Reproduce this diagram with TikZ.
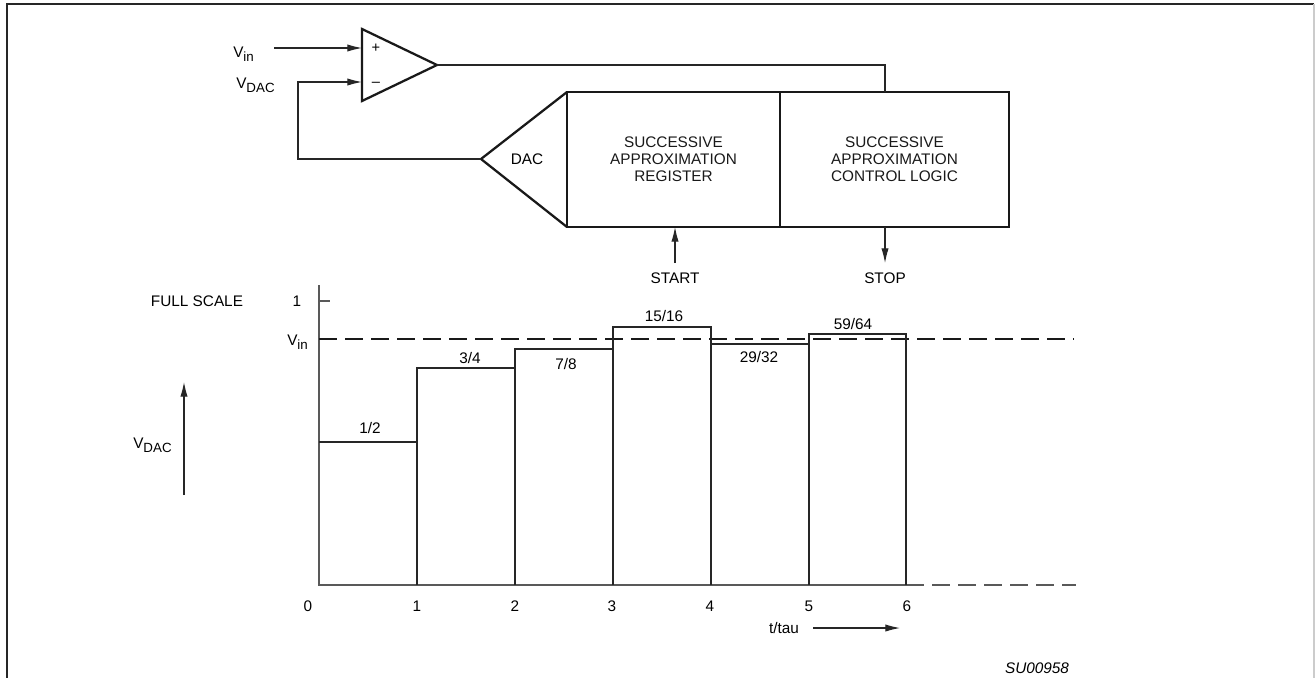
\documentclass[tikz,border=0pt]{standalone}
\usepackage{fontspec}
\setmainfont{Liberation Sans}
\usepackage{tikz}
\usetikzlibrary{arrows.meta,positioning}
\tikzstyle{part}=[draw,line width=1.7pt,black!90,outer sep=0pt,inner sep=0pt,align=center]
\tikzstyle{wire}=[line width=0.8pt,black!85]
\tikzstyle{sig}=[wire,-{Latex[length=11pt,width=5.5pt]}]
\tikzstyle{axisline}=[line width=1.1pt,black!65]
\tikzstyle{bar}=[line width=1.9pt,black!85]
\tikzstyle{guide}=[line width=0.9pt,dash pattern=on 13.5pt off 6pt]
\newcommand{\lowsub}[1]{\raisebox{-3pt}{\fontsize{10}{10}\selectfont #1}}

\begin{document}
\begin{tikzpicture}[x=0.75pt,y=-0.75pt,every node/.style={inner sep=0pt,font=\fontsize{11.5}{12.6}\selectfont}]
            \useasboundingbox (0,0) rectangle (1315,678);
            \draw[line width=1.6pt,black!85] (7,678) -- (7,4) -- (1314,4);
            \draw[line width=0.8pt,black!20] (1314,4) -- (1314,678);

            \draw[part] (362,29) -- (437,65) -- (362,101) -- cycle;
            \coordinate (plus) at (362,48);
            \coordinate (minus) at (362,82);
            \coordinate (cmpout) at (437,65);
            \node[font=\fontsize{11}{11}\selectfont] (plussign) at (376,48) {+};
            \node[font=\fontsize{11}{11}\selectfont] (minussign) at (376,84) {--};

            \node[anchor=base west] (vin) at (233,57) {V\lowsub{in}};
            \node[anchor=base west] (vdac) at (236,88) {V\lowsub{DAC}};
            \coordinate (vinend) at (274,48);
            \draw[sig] (vinend) -- (plus);

            \node[part,minimum width=159.75pt,minimum height=101.25pt] (sar) at (673.5,159.5)
                {SUCCESSIVE\\APPROXIMATION\\REGISTER};
            \node[part,minimum width=171.75pt,minimum height=101.25pt,right=0pt of sar] (logic)
                {SUCCESSIVE\\APPROXIMATION\\CONTROL LOGIC};
            \coordinate (dactip) at (481,159);
            \draw[part] (sar.north west) -- (dactip) -- (sar.south west);
            \node (daclbl) at (527,159) {DAC};

            \coordinate (fbcorner) at (298,159);
            \draw[sig] (dactip) -- (fbcorner) |- (minus);
            \coordinate (logicin) at (885,92);
            \draw[wire] (cmpout) -| (logicin);

            \coordinate (startpin) at (675,263);
            \coordinate (stoppin) at (885,263);
            \draw[sig] (startpin) -- (startpin |- sar.south);
            \draw[sig] (stoppin |- logic.south) -- (stoppin);
            \node (start) at (675,278) {START};
            \node (stop) at (885,278) {STOP};

            \coordinate (origin) at (319,585);
            \coordinate (axistop) at (319,285);
            \coordinate (axisend) at (906,585);
            \coordinate (axisfar) at (1076,585);
            \draw[axisline] (axistop) -- (origin) -- (axisend);
            \draw[axisline,guide] (axisend) -- (axisfar);
            \draw[axisline] (319,301) -- (330,301);
            \draw[guide,black!90] (319,339) -- (1074,339);

            \draw[bar] (319,442) -| (417,585);
            \foreach \a/\b/\h in {417/515/368,515/613/349,613/711/327,711/809/344,809/906/334}
                \draw[bar] (\a,585) |- (\b,\h) -- (\b,585);

            \node (half) at (370,428) {1/2};
            \node (q3) at (470,358) {3/4};
            \node (e7) at (566,364) {7/8};
            \node (s15) at (664,316) {15/16};
            \node (t29) at (759,357) {29/32};
            \node (s59) at (853,324) {59/64};

            \node (fullscale) at (197,301) {FULL SCALE};
            \node (one) at (297,301) {1};
            \node[anchor=base west] (vinlvl) at (287,345) {V\lowsub{in}};
            \node[anchor=base west] (vdacaxis) at (133,448) {V\lowsub{DAC}};
            \coordinate (vdacbot) at (184,495);
            \coordinate (vdactop) at (184,382);
            \draw[sig] (vdacbot) -- (vdactop);

            \node (t0) at (308,606) {0};
            \node (t1) at (417,606) {1};
            \node (t2) at (515,606) {2};
            \node (t3) at (612,606) {3};
            \node (t4) at (710,606) {4};
            \node (t5) at (809,606) {5};
            \node (t6) at (907,606) {6};
            \node (tlbl) at (784,628) {t/tau};
            \coordinate (tstart) at (813,628);
            \coordinate (tend) at (900,628);
            \draw[sig] (tstart) -- (tend);

            \node[font=\fontsize{11.5}{12}\selectfont\itshape] (figid) at (1037,668) {SU00958};
        \end{tikzpicture}
\end{document}
